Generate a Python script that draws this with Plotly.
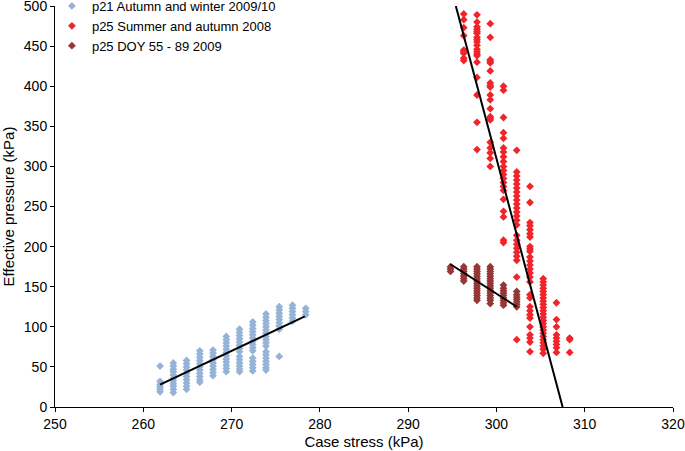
import plotly.graph_objects as go

# p21 Autumn and winter 2009/10 - one list of effective pressures per case-stress column
p21_x = [261.9, 263.4, 264.9, 266.4, 267.9, 269.4, 270.9, 272.4, 273.9, 275.4, 276.9, 278.4]
p21_y = [
    [51, 32, 28, 25, 22, 19],
    [55, 51, 47, 44, 40, 36, 33, 29, 26, 22, 18],
    [58, 54, 50, 46, 42, 38, 34, 30, 26, 22],
    [70, 66, 62, 58, 54, 50, 46, 42, 38, 34, 31],
    [71, 67, 63, 59, 55, 51, 47, 43, 39],
    [88, 84, 80, 76, 72, 68, 64, 60, 56, 52, 48, 44],
    [97, 93, 89, 85, 81, 77, 73, 69, 63, 59, 55, 51, 47, 44],
    [106, 102, 98, 94, 90, 86, 82, 78, 74, 70, 61, 57, 53, 49, 45],
    [116, 112, 108, 104, 100, 96, 92, 88, 84, 80, 76, 69, 65, 61, 57, 53, 49, 46],
    [125, 121, 117, 113, 109, 105, 101, 97, 63],
    [127, 123, 119, 115, 111, 107],
    [123, 119, 115],
]

# p25 Summer and autumn 2008
p25s_x = [296.3, 297.8, 299.3, 300.8, 302.3, 303.8, 305.3, 306.8, 308.3]
p25s_y = [
    [490, 483, 473, 463, 445, 443, 441, 435, 432],
    [489, 480, 474, 471, 468, 466, 461, 458, 455, 451, 446, 443, 440, 438, 430, 411, 389, 355, 321],
    [478, 461, 433, 431, 429, 419, 404, 401, 399, 389, 383, 372, 362, 360, 358, 330, 323, 317, 310, 300],
    [400, 395, 361, 342, 335, 323, 318, 312, 306, 300, 295, 290, 285, 280, 275, 270, 259, 244, 237, 208, 205],
    [320, 293, 288, 283, 278, 273, 268, 263, 258, 253, 248, 243, 238, 233, 227, 214, 208, 203, 198, 193,
     188, 183, 162, 84],
    [275, 255, 230, 226, 221, 216, 212, 200, 197, 194, 187, 182, 177, 172, 167, 162, 156, 140, 136, 125,
     120, 115, 111, 100, 90, 86, 81, 69],
    [160, 156, 152, 148, 144, 140, 136, 132, 128, 124, 120, 116, 112, 108, 104, 100, 96, 92, 88, 84,
     80, 76, 72, 67],
    [130, 109, 100, 90, 86, 82, 78, 74, 68],
    [86, 84, 68],
]

# p25 DOY 55 - 89 2009
p25d_x = [294.8, 296.3, 297.8, 299.3, 300.8, 302.3]
p25d_y = [
    [175, 172, 169],
    [175, 172, 169, 166, 163, 160, 157],
    [175, 172, 169, 166, 163, 160, 157, 154, 151, 148, 145, 142, 139, 136, 133],
    [175, 172, 169, 166, 163, 160, 157, 154, 151, 148, 145, 142, 139, 136, 133, 129],
    [152, 148, 145, 142, 139, 136, 133, 130, 127],
    [144, 140, 137, 134, 131, 128, 125],
]

# fitted lines (end points)
fit_p21_x = [261.9, 278.3]
fit_p21_y = [28, 113]
fit_p25s_x = [295.4, 307.5]
fit_p25s_y = [500, 0]
fit_p25d_x = [294.8, 302.3]
fit_p25d_y = [178, 125]


def flatten(xs, ys):
    fx, fy = [], []
    for x, col in zip(xs, ys):
        for v in col:
            fx.append(x)
            fy.append(v)
    return fx, fy


fig = go.Figure()

series = [
    ("p21 Autumn and winter 2009/10", p21_x, p21_y, "#95B3D7"),
    ("p25 Summer and autumn 2008", p25s_x, p25s_y, "#F0242A"),
    ("p25 DOY 55 - 89 2009", p25d_x, p25d_y, "#953735"),
]
for name, xs, ys, col in series:
    fx, fy = flatten(xs, ys)
    fig.add_trace(go.Scatter(x=fx, y=fy, mode="markers", name=name,
                             marker=dict(symbol="diamond", size=6, color=col)))

for lx, ly in [(fit_p21_x, fit_p21_y), (fit_p25s_x, fit_p25s_y), (fit_p25d_x, fit_p25d_y)]:
    fig.add_trace(go.Scatter(x=lx, y=ly, mode="lines", showlegend=False,
                             line=dict(color="black", width=2)))

axis_style = dict(showline=True, linecolor="black", linewidth=1, ticks="outside",
                  ticklen=4, tickcolor="black", showgrid=False, zeroline=False,
                  automargin=False, ticklabeloverflow="allow",
                  tickfont=dict(size=14, color="black"))

fig.update_layout(
    width=685, height=451,
    margin=dict(l=55, r=12, t=6, b=44, autoexpand=False),
    plot_bgcolor="white", paper_bgcolor="white",
    font=dict(family="Arial", size=13, color="black"),
    xaxis=dict(range=[250, 320], dtick=10,
               title=dict(text="Case stress (kPa)", font=dict(size=15), standoff=5), **axis_style),
    yaxis=dict(range=[0, 500], dtick=50,
               title=dict(text="Effective pressure (kPa)", font=dict(size=15), standoff=6), **axis_style),
    legend=dict(x=-0.005, y=1.0375, xanchor="left", yanchor="top", bgcolor="rgba(0,0,0,0)",
                font=dict(size=13), itemwidth=30, tracegroupgap=0),
)

# drop the browser's default page margin so the figure sits at the window corner
fig.write_html("out.html", config={"displayModeBar": False},
               post_script="document.body.style.margin='0px';")
